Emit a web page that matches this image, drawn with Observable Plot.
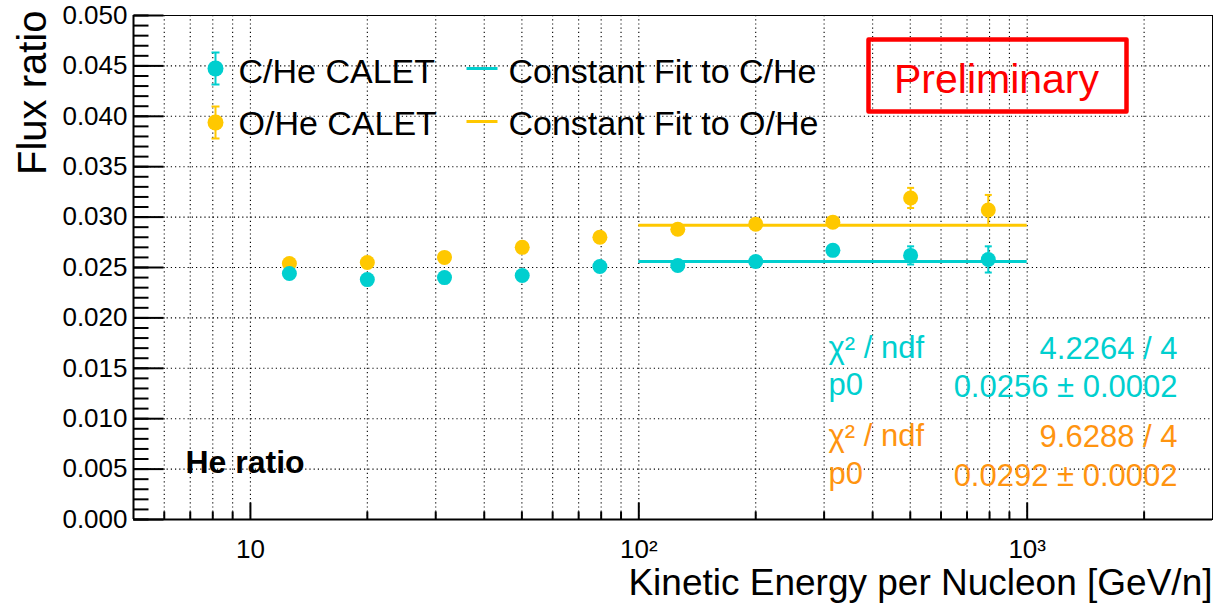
<!DOCTYPE html>
<html><head><meta charset="utf-8">
<script src="https://cdn.jsdelivr.net/npm/d3@7"></script>
<script src="https://cdn.jsdelivr.net/npm/@observablehq/plot@0.6"></script>
<style>body{margin:0;background:#fff;}#chart{width:1215px;height:610px;}</style>
</head><body><div id="chart"></div>
<script>
// ---- data ----
const energy = [12.6, 20.0, 31.6, 50.1, 79.4, 126, 200, 316, 501, 794];
const cHe    = [0.0244, 0.0238, 0.0240, 0.0242, 0.0251, 0.0252, 0.0256, 0.0267, 0.0262, 0.0258];
const cHeErr = [0.0002, 0.0002, 0.0002, 0.0003, 0.0003, 0.0003, 0.0004, 0.0005, 0.0009, 0.0013];
const oHe    = [0.0254, 0.0255, 0.0260, 0.0270, 0.0280, 0.0288, 0.0293, 0.0295, 0.0319, 0.0307];
const oHeErr = [0.0003, 0.0003, 0.0003, 0.0003, 0.0004, 0.0004, 0.0004, 0.0005, 0.0010, 0.0015];
const fitRange = [100, 1000];
const fitC = 0.0256, fitO = 0.0292;
const seriesNames = ["C/He CALET", "O/He CALET"];
const fitNames = ["Constant Fit to C/He", "Constant Fit to O/He"];
const statsC = ["χ² / ndf", "4.2264 / 4", "p0", "0.0256 ± 0.0002"];
const statsO = ["χ² / ndf", "9.6288 / 4", "p0", "0.0292 ± 0.0002"];
const xDomain = [5, 3000];
const yDomain = [0, 0.05];
const xMajor = [10, 100, 1000];
const xMajorLabels = ["10", "10²", "10³"];
const xMinor = [6, 7, 8, 9, 20, 30, 40, 50, 60, 70, 80, 90, 200, 300, 400, 500, 600, 700, 800, 900, 2000];
const yMajor = [0, 0.005, 0.010, 0.015, 0.020, 0.025, 0.030, 0.035, 0.040, 0.045, 0.050];
const yMinor = d3.range(0, 51).map(i => i / 1000);

const CYAN = "#00cfcf", YEL = "#ffc800", ORANGE = "#ff9410", RED = "#ff0000";
const FONT = "'Liberation Sans', Arial, Helvetica, sans-serif";

const rowsC = energy.map((e, i) => ({e, v: cHe[i], err: cHeErr[i]}));
const rowsO = energy.map((e, i) => ({e, v: oHe[i], err: oHeErr[i]}));

// custom symbols
const hLine = w => ({draw(c){ c.moveTo(-w/2, 0); c.lineTo(w/2, 0); }});
const hSeg = w => ({draw(c){ c.moveTo(0, 0); c.lineTo(w, 0); }});
const vSeg = l => ({draw(c){ c.moveTo(0, 0); c.lineTo(0, -l); }});
const errBar = h => ({draw(c){ c.moveTo(0, -h); c.lineTo(0, h); c.moveTo(-4, -h); c.lineTo(4, -h); c.moveTo(-4, h); c.lineTo(4, h); }});
const box = (w, h) => ({draw(c){ c.rect(-w/2, -h/2, w, h); }});

function errMarks(rows, color) {
  return [
    Plot.ruleX(rows, {x: "e", y1: d => d.v - d.err, y2: d => d.v + d.err, stroke: color, strokeWidth: 2}),
    Plot.dot(rows, {x: "e", y: d => d.v + d.err, symbol: hLine(7), stroke: color, fill: "none", strokeWidth: 2}),
    Plot.dot(rows, {x: "e", y: d => d.v - d.err, symbol: hLine(7), stroke: color, fill: "none", strokeWidth: 2}),
    Plot.dot(rows, {x: "e", y: "v", r: 7.5, fill: color, stroke: "none"})
  ];
}
const TL = {frameAnchor: "top-left", x: null, y: null};
function txt(s, opts) { return Plot.text([s], {...TL, text: d => d, lineAnchor: "bottom", fontFamily: FONT, ...opts}); }

const chart = Plot.plot({
  width: 1215, height: 610,
  marginLeft: 133, marginRight: 3, marginTop: 15, marginBottom: 91,
  style: {fontFamily: FONT, background: "#fff", color: "#000"},
  x: {type: "log", domain: xDomain},
  y: {domain: yDomain},
  marks: [
    Plot.gridY({ticks: yMajor, stroke: "#000", strokeOpacity: 1, strokeDasharray: "1.2,3", strokeWidth: 1.1}),
    Plot.gridX({ticks: [...xMajor, ...xMinor], stroke: "#000", strokeOpacity: 1, strokeDasharray: "1.2,3", strokeWidth: 1.1}),
    Plot.frame({stroke: "#000", strokeWidth: 1}),
    Plot.ruleX([xDomain[0]], {stroke: "#000", strokeWidth: 2}),
    Plot.ruleY([yDomain[0]], {stroke: "#000", strokeWidth: 2}),
    // y ticks (inside)
    Plot.dot(yMajor, {x: xDomain[0], y: d => d, symbol: hSeg(30), stroke: "#000", fill: "none", strokeWidth: 2}),
    Plot.dot(yMinor, {x: xDomain[0], y: d => d, symbol: hSeg(15), stroke: "#000", fill: "none", strokeWidth: 2}),
    // x ticks (inside)
    Plot.dot(xMajor, {x: d => d, y: yDomain[0], symbol: vSeg(17), stroke: "#000", fill: "none", strokeWidth: 2}),
    Plot.dot(xMinor, {x: d => d, y: yDomain[0], symbol: vSeg(8), stroke: "#000", fill: "none", strokeWidth: 2}),
    Plot.axisY({ticks: yMajor, tickSize: 0, tickPadding: 6, tickFormat: d3.format(".3f"), fontSize: 26, label: null}),
    Plot.axisX({ticks: xMajor, tickSize: 0, tickPadding: 20, tickFormat: d => xMajorLabels[xMajor.indexOf(d)], fontSize: 26, label: null}),
    // fits
    Plot.ruleY([fitO], {x1: fitRange[0], x2: fitRange[1], stroke: YEL, strokeWidth: 3}),
    Plot.ruleY([fitC], {x1: fitRange[0], x2: fitRange[1], stroke: CYAN, strokeWidth: 3}),
    ...errMarks(rowsO, YEL),
    ...errMarks(rowsC, CYAN),
    // axis titles
    txt("Flux ratio", {rotate: -90, textAnchor: "end", dx: -88, dy: -5, fontSize: 40, fill: "#000"}),
    Plot.text(["Kinetic Energy per Nucleon [GeV/n]"], {frameAnchor: "bottom-right", x: null, y: null, text: d => d, textAnchor: "end", lineAnchor: "bottom", dy: 75, fontSize: 37, fill: "#000", fontFamily: FONT}),
    // legend
    Plot.dot([0], {...TL, dx: 82, dy: 53, symbol: errBar(16), stroke: CYAN, fill: "none", strokeWidth: 2}),
    Plot.dot([0], {...TL, dx: 82, dy: 53, r: 8, fill: CYAN}),
    Plot.dot([0], {...TL, dx: 82, dy: 107, symbol: errBar(16), stroke: YEL, fill: "none", strokeWidth: 2}),
    Plot.dot([0], {...TL, dx: 82, dy: 107, r: 8, fill: YEL}),
    txt(seriesNames[0], {dx: 105, dy: 67, fontSize: 34, fill: "#000"}),
    txt(seriesNames[1], {dx: 105, dy: 119, fontSize: 34, fill: "#000"}),
    Plot.dot([0], {...TL, dx: 333, dy: 53, symbol: hSeg(31), stroke: CYAN, fill: "none", strokeWidth: 3}),
    Plot.dot([0], {...TL, dx: 333, dy: 106, symbol: hSeg(31), stroke: YEL, fill: "none", strokeWidth: 3}),
    txt(fitNames[0], {dx: 375, dy: 67, fontSize: 34, fill: "#000"}),
    txt(fitNames[1], {dx: 375, dy: 119, fontSize: 34, fill: "#000"}),
    // preliminary
    Plot.dot([0], {...TL, dx: 864, dy: 60, symbol: box(258, 72), stroke: RED, fill: "none", strokeWidth: 4.5, strokeLinejoin: "round"}),
    txt("Preliminary", {dx: 863, dy: 77, textAnchor: "middle", fontSize: 41, fill: RED}),
    // stats
    txt(statsC[0], {dx: 695, dy: 342, fontSize: 31, fill: CYAN}),
    txt(statsC[1], {dx: 1044, dy: 343, textAnchor: "end", fontSize: 31, fill: CYAN}),
    txt(statsC[2], {dx: 695, dy: 379, fontSize: 31, fill: CYAN}),
    txt(statsC[3], {dx: 1044, dy: 381, textAnchor: "end", fontSize: 31, fill: CYAN}),
    txt(statsO[0], {dx: 695, dy: 430, fontSize: 31, fill: ORANGE}),
    txt(statsO[1], {dx: 1044, dy: 431, textAnchor: "end", fontSize: 31, fill: ORANGE}),
    txt(statsO[2], {dx: 695, dy: 468, fontSize: 31, fill: ORANGE}),
    txt(statsO[3], {dx: 1044, dy: 470, textAnchor: "end", fontSize: 31, fill: ORANGE}),
    txt("He ratio", {dx: 52, dy: 457, fontSize: 32, fontWeight: "bold", fill: "#000"})
  ]
});
document.getElementById("chart").append(chart);
</script>
</body></html>
